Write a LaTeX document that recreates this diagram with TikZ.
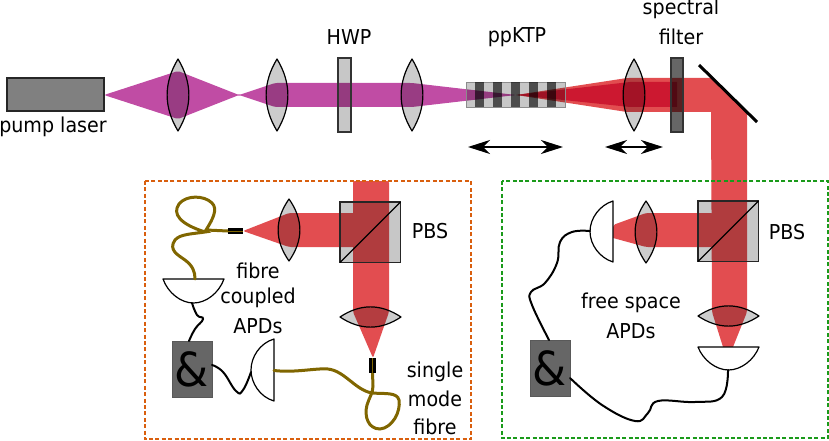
\documentclass[tikz,border=0pt]{standalone}
\usepackage{fontspec}
\setmainfont{DejaVu Sans}[FakeStretch=0.93]
\usetikzlibrary{arrows.meta}
\definecolor{magbeam}{HTML}{C04CA4}
\definecolor{redbeam}{HTML}{E24D50}
\definecolor{deepred}{HTML}{CC1830}
\definecolor{fibrecol}{HTML}{806600}
\definecolor{orangebox}{HTML}{D95F0E}
\definecolor{greenbox}{HTML}{1A9A1A}
\tikzset{
  x=1pt,y=-1pt,
  lab/.style={font=\fontsize{20.5}{22}\selectfont,inner sep=0pt,text=black},
  glass/.style={fill=black,fill opacity=.2,draw=black,draw opacity=1,line width=1.2pt,line join=round},
  plate/.style={fill=black,fill opacity=.22,draw=black!80,draw opacity=1,line width=1.2pt},
  darkplate/.style={fill=black,fill opacity=.6,draw=black!80,draw opacity=1,line width=1.2pt},
  apd/.style={fill=white,draw=black,line width=1.2pt,line join=round},
  fibre/.style={draw=fibrecol,line width=3pt,line cap=round},
  wire/.style={draw=black,line width=2pt,line cap=round},
  gatebox/.style={fill=black!60,draw=black!65,line width=1pt,minimum width=40pt,minimum height=56pt,inner sep=0pt,font=\fontsize{47}{47}\selectfont},
  movearrow/.style={draw=black,line width=1.9pt,{Stealth[length=22pt,width=14pt,inset=7pt]}-{Stealth[length=22pt,width=14pt,inset=7pt]}},
  framebox/.style={line width=2pt,dash pattern=on 4pt off 2.4pt},
}
\newcommand{\vlens}[3]{\draw[glass] (#1,#2-#3) .. controls (#1+14.5,#2-#3/3) and (#1+14.5,#2+#3/3) .. (#1,#2+#3) .. controls (#1-14.5,#2+#3/3) and (#1-14.5,#2-#3/3) .. cycle;}
\newcommand{\hlens}[3]{\draw[glass] (#1-#3,#2) .. controls (#1-#3/3,#2-13.5) and (#1+#3/3,#2-13.5) .. (#1+#3,#2) .. controls (#1+#3/3,#2+13.5) and (#1-#3/3,#2+13.5) .. cycle;}
\newcommand{\cube}[2]{\draw[plate,draw=black!85] (#1,#2) rectangle ++(60.5,60.5); \draw[line width=1.2pt,black] (#1,#2+60.5) -- (#1+60.5,#2);}
\begin{document}
\begin{tikzpicture}
\useasboundingbox (0,0) rectangle (829,441);
% beams
\fill[magbeam,rounded corners=2pt] (104,95) -- (178,71) -- (239,95) -- (275,83) -- (412,83) -- (516,95) -- (412,107) -- (275,107) -- (239,95) -- (178,119) -- cycle;
\fill[redbeam] (516,95) [rounded corners=2pt] -- (627,78) [sharp corners] -- (712,78) -- (747,113) -- (747,181) [rounded corners=2pt] -- (747,312) [sharp corners] -- (733,347) -- (723,347) [rounded corners=2pt] -- (712,312) [sharp corners] -- (711,112) [rounded corners=2pt] -- (627,112) -- cycle;
\fill[redbeam,rounded corners=2pt] (713,213) -- (646,213) -- (613,225) [sharp corners] -- (613,238) [rounded corners=2pt] -- (646,247) -- (713,247) -- cycle;
\fill[deepred] (516,95) -- (630,82) -- (677,82) -- (677,107) -- (630,107) -- cycle;
\fill[redbeam,rounded corners=2pt] (389,181) -- (389,312) -- (373,358) -- (353,312) -- (353,181) -- cycle;
\fill[redbeam,rounded corners=2pt] (355,213) -- (289,213) -- (243,231) -- (289,247) -- (355,247) -- cycle;
% top row optics
\node[fill=gray!100,draw=black!85,line width=1.4pt,minimum width=97pt,minimum height=33pt,inner sep=0pt] (laser) at (55.5,94.5) {};
\vlens{178}{95}{36}
\vlens{277}{95}{36}
\draw[plate] (338,58) rectangle (351,132);
\vlens{412}{95}{36}
\draw[fill=black,fill opacity=.22,draw=black!45,draw opacity=1,line width=.8pt] (466,82) rectangle (565,107);
\foreach \xs in {475,493,511,529,547} \fill[black,fill opacity=.62] (\xs,82) rectangle (\xs+9,107);
\vlens{634}{95}{36}
\draw[darkplate] (671,58) rectangle (683,132);
\draw[black,line width=3pt] (699,65) -- (757,122);
\coordinate (pkl) at (468,147); \coordinate (pkr) at (563,147);
\coordinate (lsl) at (605,147); \coordinate (lsr) at (663,147);
\draw[movearrow] (pkl) -- (pkr);
\draw[movearrow] (lsl) -- (lsr);
% labels
\node[lab] (tlaser) at (53,127) {pump laser};
\node[lab] (thwp) at (349,37) {HWP};
\node[lab] (tkpt) at (517,37) {ppKTP};
\node[lab] (tspec) at (681,9) {spectral};
\node[lab] (tfilt) at (681,37) {filter};
% frames
\draw[framebox,orangebox] (144.5,181) rectangle (471,439);
\draw[framebox,greenbox] (501.5,181) rectangle (828,438);
% left box
\cube{340}{202}
\vlens{289}{230}{31}
\hlens{370.5}{317}{30.5}
\draw[apd] (163,279) .. controls (168,293) and (181,303) .. (193.5,303) .. controls (206,303) and (219,293) .. (224,279) -- cycle;
\draw[apd] (274,339) .. controls (260,343) and (251,357) .. (251,370) .. controls (251,383) and (260,397) .. (274,401) -- cycle;
\node[gatebox] (andL) at (192,369) {\&};
\coordinate (cplL) at (228,231); \coordinate (cplS) at (372.5,373);
\coordinate (apdLt) at (195,279); \coordinate (apdLm) at (274,370.5);
\draw[fibre] (cplL) -- (206,230) .. controls (213,219) and (218,209) .. (212,203) .. controls (204,195) and (186,195) .. (179,204) .. controls (172,214) and (180,224) .. (205,232) .. controls (192,234) and (180,234) .. (175,240) .. controls (168,250) and (178,255) .. (185,260) .. controls (193,266) and (195,272) .. (apdLt);
\draw[fibre] (apdLm) .. controls (295,373) and (315,368) .. (328,369) .. controls (345,371) and (355,390) .. (372,393) .. controls (385,394) and (397,392) .. (399,400) .. controls (401,412) and (392,428) .. (380,429) .. controls (368,429) and (364,416) .. (367,405) .. controls (369,398) and (373,393) .. (373,386) -- (cplS);
\fill[black] (228,228) rectangle (243,234);
\fill[black] (369,358) rectangle (376,373);
\draw[fibrecol,line width=1pt] (228,231) -- (243,231);
\draw[fibrecol,line width=1pt] (372.5,358) -- (372.5,373);
\coordinate (apdLtb) at (192,303); \coordinate (apdLmw) at (251,372);
\draw[wire] plot[smooth,tension=.8] coordinates {(apdLtb) (197,315) (203,319) (195,329) (189,341)};
\draw[wire] plot[smooth,tension=.8] coordinates {(212,365) (223,372) (236,391) (243,390) (apdLmw)};
\node[lab] (tPBSl) at (430,231) {PBS};
\node[lab] (tf1) at (258,271) {fibre};
\node[lab] (tf2) at (258,298) {coupled};
\node[lab] (tf3) at (258,326) {APDs};
\node[lab] (ts1) at (435,372) {single};
\node[lab] (ts2) at (435,399) {mode};
\node[lab] (ts3) at (435,427) {fibre};
% right box
\cube{698}{201}
\vlens{646}{232}{31}
\hlens{728.5}{316}{30.5}
\draw[apd] (613,201) .. controls (600,205) and (590,218) .. (590,231.5) .. controls (590,245) and (600,258) .. (613,262) -- cycle;
\draw[apd] (698,347) .. controls (703,360) and (716,370) .. (728.5,370) .. controls (741,370) and (754,360) .. (759,347) -- cycle;
\node[gatebox] (andR) at (550,368) {\&};
\coordinate (apdRl) at (590,231); \coordinate (apdRb) at (728,370);
\draw[wire] plot[smooth,tension=.7] coordinates {(apdRl) (572,232) (560,242) (557,263) (545,283) (531,292) (532,305) (549,340)};
\draw[wire] plot[smooth,tension=.7] coordinates {(570,378) (602,405) (635,421) (648,413) (658,401) (695,402) (722,397) (apdRb)};
\node[lab] (tPBSr) at (787,232) {PBS};
\node[lab] (tfs1) at (631,303) {free space};
\node[lab] (tfs2) at (631,331) {APDs};
\end{tikzpicture}
\end{document}
